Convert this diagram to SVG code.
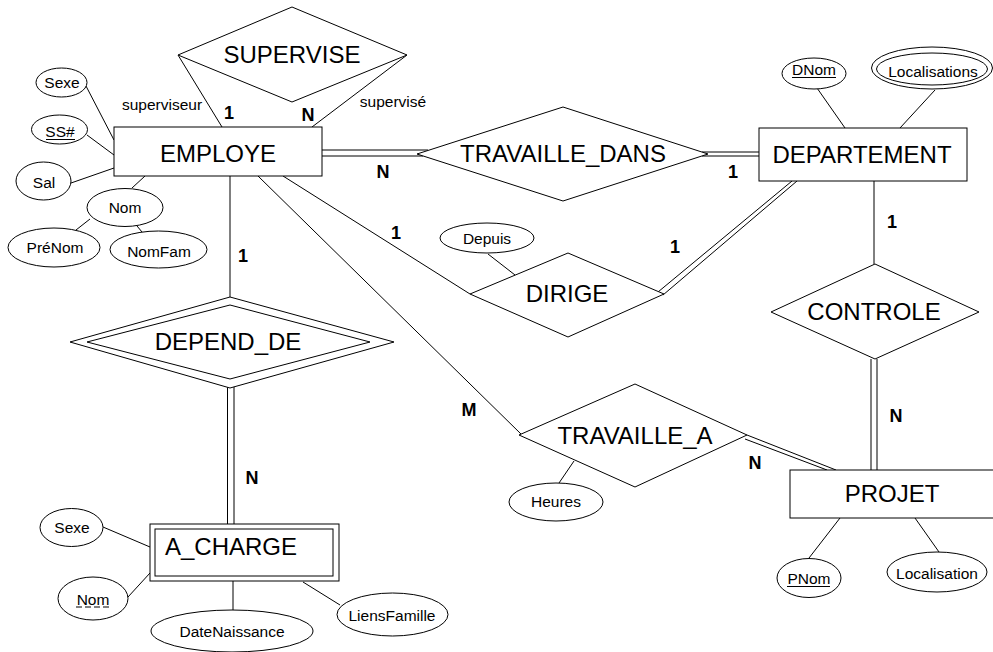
<svg xmlns="http://www.w3.org/2000/svg" width="993" height="652" viewBox="0 0 993 652">
<style>
text{font-family:"Liberation Sans",Arial,sans-serif;fill:#000}
.ln{stroke:#000;stroke-width:1;fill:none}
.sh{fill:#fff;stroke:#000;stroke-width:1}
.big{font-size:24px;text-anchor:middle}
.sm{font-size:15.5px;text-anchor:middle}
.card{font-size:18px;font-weight:bold;text-anchor:middle}
</style>
<rect width="993" height="652" fill="#fff"/>
<g id="connectors">
  <!-- EMPLOYE attributes -->
  <line class="ln" x1="86" y1="86" x2="114" y2="140"/>
  <line class="ln" x1="87" y1="135" x2="114" y2="155"/>
  <line class="ln" x1="71" y1="183" x2="114" y2="168"/>
  <line class="ln" x1="132" y1="188" x2="145" y2="176"/>
  <line class="ln" x1="76" y1="230" x2="90" y2="219"/>
  <line class="ln" x1="142" y1="232" x2="137" y2="226"/>
  <!-- SUPERVISE -->
  <line class="ln" x1="178" y1="55" x2="222" y2="127"/>
  <line class="ln" x1="407" y1="55" x2="312" y2="127"/>
  <!-- TRAVAILLE_DANS -->
  <line class="ln" x1="322" y1="150" x2="428" y2="150"/>
  <line class="ln" x1="322" y1="156" x2="423" y2="156"/>
  <line class="ln" x1="702" y1="152" x2="759" y2="152"/>
  <line class="ln" x1="702" y1="156" x2="759" y2="156"/>
  <!-- DEPARTEMENT attributes -->
  <line class="ln" x1="817" y1="88" x2="845" y2="128"/>
  <line class="ln" x1="935" y1="90" x2="900" y2="128"/>
  <!-- DIRIGE -->
  <line class="ln" x1="283" y1="176" x2="470" y2="294"/>
  <line class="ln" x1="792" y1="181" x2="658" y2="292"/>
  <line class="ln" x1="797" y1="181" x2="663" y2="295"/>
  <line class="ln" x1="488" y1="254" x2="515" y2="275"/>
  <!-- CONTROLE -->
  <line class="ln" x1="874" y1="181" x2="874" y2="264"/>
  <line class="ln" x1="871" y1="359" x2="871" y2="470"/>
  <line class="ln" x1="877" y1="359" x2="877" y2="470"/>
  <!-- TRAVAILLE_A -->
  <line class="ln" x1="258" y1="176" x2="521" y2="434"/>
  <line class="ln" x1="747" y1="435" x2="836" y2="470"/>
  <line class="ln" x1="745" y1="439" x2="827" y2="470"/>
  <line class="ln" x1="559" y1="483" x2="574" y2="461"/>
  <!-- PROJET attributes -->
  <line class="ln" x1="840" y1="518" x2="809" y2="558"/>
  <line class="ln" x1="915" y1="518" x2="939" y2="552"/>
  <!-- DEPEND_DE -->
  <line class="ln" x1="230" y1="176" x2="230" y2="297"/>
  <line class="ln" x1="227.5" y1="386" x2="227.5" y2="524"/>
  <line class="ln" x1="234" y1="386" x2="234" y2="524"/>
  <!-- A_CHARGE attributes -->
  <line class="ln" x1="103" y1="527" x2="150" y2="547"/>
  <line class="ln" x1="128" y1="597" x2="150" y2="573"/>
  <line class="ln" x1="233" y1="581" x2="233" y2="610"/>
  <line class="ln" x1="303" y1="582" x2="340" y2="605"/>
</g>
<g id="cardinalities">
  <text class="sm" x="122" y="110" style="text-anchor:start">superviseur</text>
  <text class="sm" x="393" y="107">supervisé</text>
  <text class="card" x="229" y="119">1</text>
  <text class="card" x="308" y="121">N</text>
  <text class="card" x="383" y="178">N</text>
  <text class="card" x="733" y="178">1</text>
  <text class="card" x="243" y="262">1</text>
  <text class="card" x="252" y="484">N</text>
  <text class="card" x="396" y="239">1</text>
  <text class="card" x="675" y="253">1</text>
  <text class="card" x="892" y="228">1</text>
  <text class="card" x="896" y="422">N</text>
  <text class="card" x="469" y="416">M</text>
  <text class="card" x="755" y="469">N</text>
</g>
<g id="EMPLOYE">
  <rect class="sh" x="114" y="127" width="208" height="49"/>
  <text class="big" x="218" y="162">EMPLOYE</text>
</g>
<g id="emp-Sexe"><ellipse class="sh" cx="61.5" cy="82.5" rx="25.5" ry="14.5"/><text class="sm" x="62" y="87.5">Sexe</text></g>
<g id="emp-SS"><ellipse class="sh" cx="59.5" cy="129.5" rx="28" ry="14.5"/><text class="sm" x="60" y="137">SS#</text><line class="ln" x1="46" y1="139.5" x2="75" y2="139.5" stroke-width="1.3"/></g>
<g id="emp-Sal"><ellipse class="sh" cx="43.5" cy="181" rx="27.5" ry="19"/><text class="sm" x="44" y="188">Sal</text></g>
<g id="emp-Nom"><ellipse class="sh" cx="125" cy="207.5" rx="38" ry="19"/><text class="sm" x="125" y="213">Nom</text></g>
<g id="emp-PreNom"><ellipse class="sh" cx="54" cy="247.5" rx="46" ry="19.5"/><text class="sm" x="55" y="253">PréNom</text></g>
<g id="emp-NomFam"><ellipse class="sh" cx="158.5" cy="249.5" rx="48.5" ry="18.5"/><text class="sm" x="159" y="257">NomFam</text></g>
<g id="SUPERVISE">
  <polygon class="sh" points="178,55 292,7 407,55 292,102"/>
  <text class="big" x="292" y="63">SUPERVISE</text>
</g>
<g id="TRAVAILLE_DANS">
  <polygon class="sh" points="417,154 563,107 708,154 563,201"/>
  <text class="big" x="563" y="162">TRAVAILLE_DANS</text>
</g>
<g id="DEPARTEMENT">
  <rect class="sh" x="759" y="128" width="208" height="53"/>
  <text class="big" x="862" y="163">DEPARTEMENT</text>
</g>
<g id="dept-DNom"><ellipse class="sh" cx="814" cy="73.5" rx="32" ry="15.5"/><text class="sm" x="814" y="75">DNom</text><line class="ln" x1="792" y1="77.5" x2="836" y2="77.5" stroke-width="1.3"/></g>
<g id="dept-Localisations"><ellipse class="sh" cx="932" cy="68" rx="60.5" ry="21"/><ellipse class="sh" cx="932" cy="69" rx="55.5" ry="16"/><text class="sm" x="933" y="77">Localisations</text></g>
<g id="DIRIGE">
  <polygon class="sh" points="470,294 568,253 664,294 568,337"/>
  <text class="big" x="567" y="302">DIRIGE</text>
</g>
<g id="dirige-Depuis"><ellipse class="sh" cx="487" cy="238" rx="47" ry="15"/><text class="sm" x="487" y="244">Depuis</text></g>
<g id="CONTROLE">
  <polygon class="sh" points="771,312 875,264 979,312 875,359"/>
  <text class="big" x="874" y="320">CONTROLE</text>
</g>
<g id="TRAVAILLE_A">
  <polygon class="sh" points="519,435 635,384 747,435 635,487"/>
  <text class="big" x="635" y="444">TRAVAILLE_A</text>
</g>
<g id="ta-Heures"><ellipse class="sh" cx="556" cy="502" rx="47" ry="19"/><text class="sm" x="556" y="507">Heures</text></g>
<g id="PROJET">
  <rect class="sh" x="790" y="470" width="220" height="48"/>
  <text class="big" x="892" y="502">PROJET</text>
</g>
<g id="proj-PNom"><ellipse class="sh" cx="809" cy="578" rx="32" ry="19.5"/><text class="sm" x="809" y="584">PNom</text><line class="ln" x1="787" y1="586.5" x2="830" y2="586.5" stroke-width="1.3"/></g>
<g id="proj-Localisation"><ellipse class="sh" cx="937" cy="572" rx="50" ry="20"/><text class="sm" x="937" y="579">Localisation</text></g>
<g id="DEPEND_DE">
  <polygon class="sh" points="70,342 230,297 394,342 230,388"/>
  <polygon class="sh" points="87,342 230,305 370,342 230,379"/>
  <text class="big" x="228" y="350">DEPEND_DE</text>
</g>
<g id="A_CHARGE">
  <rect class="sh" x="150" y="524" width="189" height="57"/>
  <rect class="sh" x="155" y="529" width="178" height="47"/>
  <text class="big" x="165" y="555" style="text-anchor:start">A_CHARGE</text>
</g>
<g id="ac-Sexe"><ellipse class="sh" cx="71.5" cy="527.5" rx="31.5" ry="19"/><text class="sm" x="72" y="533">Sexe</text></g>
<g id="ac-Nom"><ellipse class="sh" cx="93" cy="598.5" rx="35" ry="21.5"/><text class="sm" x="93" y="605">Nom</text><line class="ln" x1="76" y1="607" x2="110" y2="607" stroke-width="1.3" stroke-dasharray="6,3"/></g>
<g id="ac-DateNaissance"><ellipse class="sh" cx="232" cy="631" rx="81" ry="21"/><text class="sm" x="232" y="637">DateNaissance</text></g>
<g id="ac-LiensFamille"><ellipse class="sh" cx="392.5" cy="614.5" rx="55.5" ry="21.5"/><text class="sm" x="392" y="621">LiensFamille</text></g>
</svg>
